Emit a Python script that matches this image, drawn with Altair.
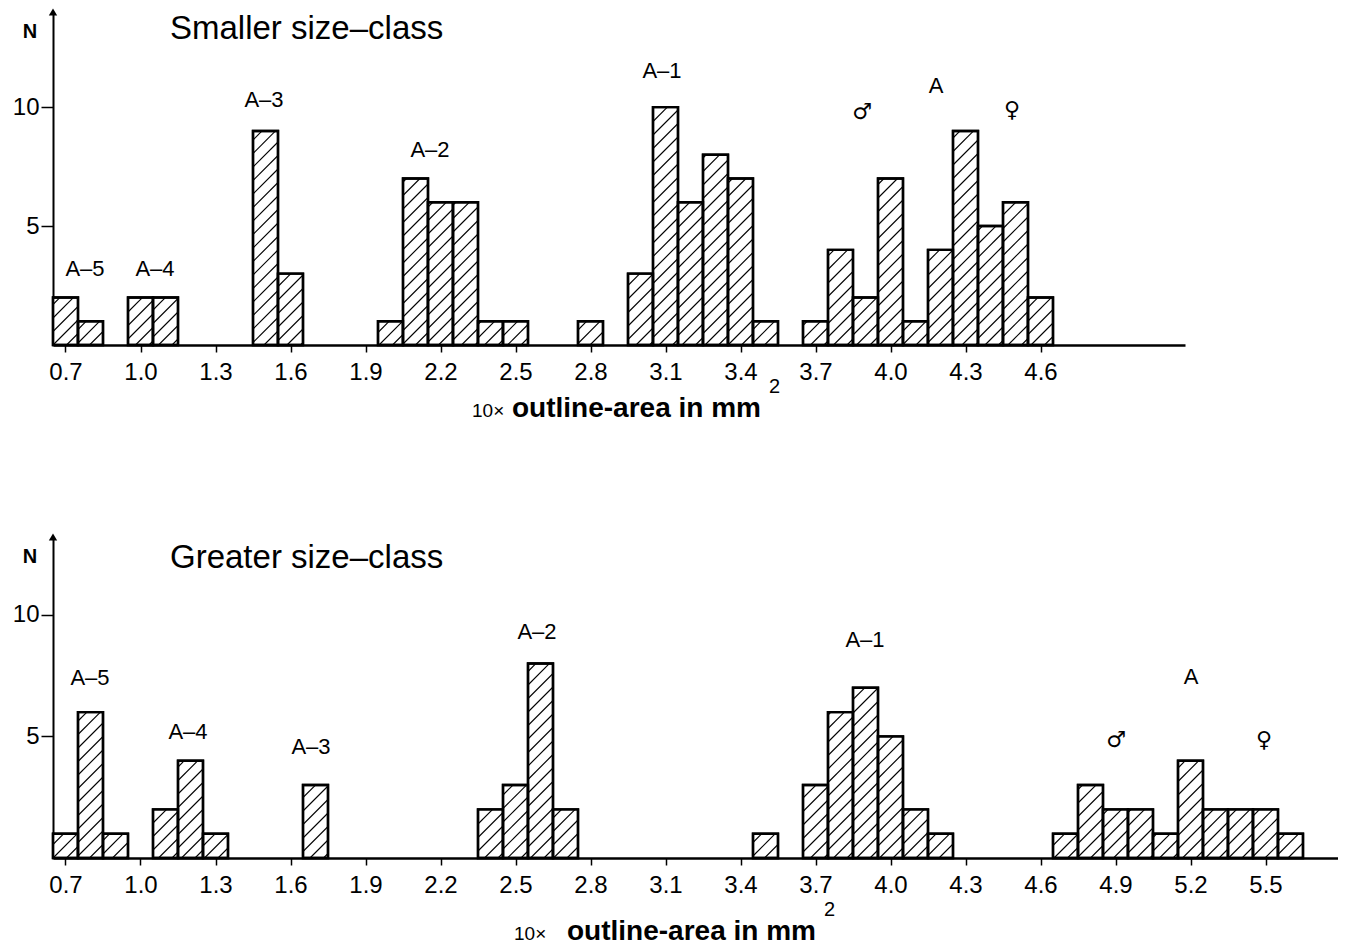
import altair as alt
import pandas as pd

FONT = "Liberation Sans"
SYM_FONT = "DejaVu Sans"

# ---------------- data ----------------
top_centers = [0.7, 0.8, 1.0, 1.1, 1.5, 1.6, 2.0, 2.1, 2.2, 2.3, 2.4, 2.5, 2.8,
               3.0, 3.1, 3.2, 3.3, 3.4, 3.5, 3.7, 3.8, 3.9, 4.0, 4.1, 4.2, 4.3,
               4.4, 4.5, 4.6]
top_counts = [2, 1, 2, 2, 9, 3, 1, 7, 6, 6, 1, 1, 1,
              3, 10, 6, 8, 7, 1, 1, 4, 2, 7, 1, 4, 9,
              5, 6, 2]
top_ticks = [0.7, 1.0, 1.3, 1.6, 1.9, 2.2, 2.5, 2.8, 3.1, 3.4, 3.7, 4.0, 4.3, 4.6]

bot_centers = [0.7, 0.8, 0.9, 1.1, 1.2, 1.3, 1.7, 2.4, 2.5, 2.6, 2.7, 3.5,
               3.7, 3.8, 3.9, 4.0, 4.1, 4.2, 4.7, 4.8, 4.9, 5.0, 5.1, 5.2,
               5.3, 5.4, 5.5, 5.6]
bot_counts = [1, 6, 1, 2, 4, 1, 3, 2, 3, 8, 2, 1,
              3, 6, 7, 5, 2, 1, 1, 3, 2, 2, 1, 4,
              2, 2, 2, 1]
bot_ticks = [0.7, 1.0, 1.3, 1.6, 1.9, 2.2, 2.5, 2.8, 3.1, 3.4, 3.7, 4.0, 4.3,
             4.6, 4.9, 5.2, 5.5]

y_ticks = [5, 10]

top_label_text = ["A\u20135", "A\u20134", "A\u20133", "A\u20132", "A\u20131", "A"]
top_label_x = [0.778, 1.058, 1.494, 2.158, 3.086, 4.182]
top_label_y = [3.2, 3.2, 10.3, 8.2, 11.5, 10.9]
top_sym_text = ["\u2642", "\u2640"]
top_sym_x = [3.886, 4.486]
top_sym_y = [9.8, 9.9]

bot_label_text = ["A\u20135", "A\u20134", "A\u20133", "A\u20132", "A\u20131", "A"]
bot_label_x = [0.798, 1.19, 1.682, 2.586, 3.898, 5.202]
bot_label_y = [7.4, 5.2, 4.55, 9.3, 8.95, 7.45]
bot_sym_text = ["\u2642", "\u2640"]
bot_sym_x = [4.902, 5.494]
bot_sym_y = [4.85, 4.85]

top_title = "Smaller  size\u2013class"
bot_title = "Greater  size\u2013class"

BIN = 0.1
XMIN = 0.65


def panel(centers, counts, ticks, labels_t, labels_x, labels_y,
          sym_t, sym_x, sym_y, title,
          width, height, ymax, title_y, xt_small, xt_big, xt_y):
    xmax = XMIN + width / 250.0
    xs = alt.Scale(domain=[XMIN, xmax], nice=False, zero=False)
    ys = alt.Scale(domain=[0, ymax], nice=False)
    xaxis = alt.Axis(values=ticks, format=".1f", title=None, grid=False,
                     labelFont=FONT, labelFontSize=24, labelColor="black",
                     domainColor="black", domainWidth=2.5,
                     tickColor="black", tickWidth=1.5, tickSize=7,
                     labelPadding=8, labelFlush=False)
    yaxis = alt.Axis(values=y_ticks, title=None, grid=False,
                     labelFont=FONT, labelFontSize=24, labelColor="black",
                     domainColor="black", domainWidth=2,
                     tickColor="black", tickWidth=1.5, tickSize=12,
                     labelPadding=2)

    bars = pd.DataFrame({"c": centers, "n": counts})
    bars["x0"] = (bars["c"] - BIN / 2).round(3)
    bars["x1"] = (bars["c"] + BIN / 2).round(3)
    bars["z"] = 0

    # hatch lines derived from the bars
    px_x = width / (xmax - XMIN)
    px_y = height / ymax
    step = 13.5
    rows = []
    for c, n in zip(centers, counts):
        x0 = c - BIN / 2
        w = BIN * px_x
        h = n * px_y
        gx0 = (x0 - XMIN) * px_x
        c0 = -w - ((-w + gx0) % step) + step
        while c0 < h:
            a = max(0.0, -c0)
            b = min(w, h - c0)
            if b - a > 1.0:
                rows.append({"x": x0 + a / px_x, "y": (a + c0) / px_y,
                             "x2": x0 + b / px_x, "y2": (b + c0) / px_y})
            c0 += step
    hatch = pd.DataFrame(rows)

    bar_layer = alt.Chart(bars).mark_bar(
        fill="white", stroke="black", strokeWidth=2.4, strokeJoin="miter"
    ).encode(
        x=alt.X("x0:Q", scale=xs, axis=xaxis),
        x2="x1:Q",
        y=alt.Y("n:Q", scale=ys, axis=yaxis),
        y2="z:Q",
    )

    hatch_layer = alt.Chart(hatch).mark_rule(color="black", strokeWidth=1.1).encode(
        x=alt.X("x:Q", scale=xs, axis=xaxis),
        y=alt.Y("y:Q", scale=ys, axis=yaxis),
        x2="x2:Q",
        y2="y2:Q",
    )

    bar_outline = alt.Chart(bars).mark_bar(
        fillOpacity=0, stroke="black", strokeWidth=2.4
    ).encode(
        x=alt.X("x0:Q", scale=xs, axis=xaxis),
        x2="x1:Q",
        y=alt.Y("n:Q", scale=ys, axis=yaxis),
        y2="z:Q",
    )

    arrow = alt.Chart(pd.DataFrame({"x": [XMIN], "y": [ymax]})).mark_point(
        shape="triangle-up", filled=True, color="black", size=70, opacity=1
    ).encode(
        x=alt.X("x:Q", scale=xs, axis=xaxis),
        y=alt.Y("y:Q", scale=ys, axis=yaxis),
    )

    lab = pd.DataFrame({"t": labels_t, "x": labels_x, "y": labels_y})
    label_layer = alt.Chart(lab).mark_text(
        font=FONT, fontSize=22, color="black", baseline="middle"
    ).encode(
        x=alt.X("x:Q", scale=xs, axis=xaxis),
        y=alt.Y("y:Q", scale=ys, axis=yaxis),
        text="t:N",
    )

    sym = pd.DataFrame({"t": sym_t, "x": sym_x, "y": sym_y})
    sym_layer = alt.Chart(sym).mark_text(
        font=SYM_FONT, fontSize=22, color="black", baseline="middle"
    ).encode(
        x=alt.X("x:Q", scale=xs, axis=xaxis),
        y=alt.Y("y:Q", scale=ys, axis=yaxis),
        text="t:N",
    )

    ttl = pd.DataFrame({"t": [title], "x": [1.118], "y": [title_y]})
    title_layer = alt.Chart(ttl).mark_text(
        font=FONT, fontSize=33, color="black", align="left", baseline="middle"
    ).encode(
        x=alt.X("x:Q", scale=xs, axis=xaxis),
        y=alt.Y("y:Q", scale=ys, axis=yaxis),
        text="t:N",
    )

    n_layer = alt.Chart(pd.DataFrame({"t": ["N"]})).mark_text(
        font=FONT, fontSize=20, fontWeight="bold", color="black", baseline="middle"
    ).encode(x=alt.value(-23), y=alt.value(20), text="t:N")

    xt1 = alt.Chart(pd.DataFrame({"t": ["10\u00d7"]})).mark_text(
        font=FONT, fontSize=19, color="black", align="left", baseline="alphabetic"
    ).encode(x=alt.value(xt_small), y=alt.value(xt_y), text="t:N")
    xt2 = alt.Chart(pd.DataFrame({"t": ["outline-area in mm"]})).mark_text(
        font=FONT, fontSize=28, fontWeight="bold", color="black", align="left",
        baseline="alphabetic"
    ).encode(x=alt.value(xt_big), y=alt.value(xt_y), text="t:N")
    xt3 = alt.Chart(pd.DataFrame({"t": ["2"]})).mark_text(
        font=FONT, fontSize=20, color="black", align="left", baseline="alphabetic"
    ).encode(x=alt.value(xt_big + 257), y=alt.value(xt_y - 24), text="t:N")

    return alt.layer(bar_layer, hatch_layer, bar_outline, arrow, label_layer,
                     sym_layer, title_layer, n_layer, xt1, xt2, xt3).properties(
        width=width, height=height,
        view=alt.ViewBackground(stroke="transparent", strokeWidth=0))


top = panel(top_centers, top_counts, top_ticks, top_label_text, top_label_x,
            top_label_y, top_sym_text, top_sym_x, top_sym_y, top_title,
            1132, 333, 14.0, 13.3, 419, 459, 405)
bottom = panel(bot_centers, bot_counts, bot_ticks, bot_label_text, bot_label_x,
               bot_label_y, bot_sym_text, bot_sym_x, bot_sym_y, bot_title,
               1285, 321, 13.2, 12.35, 461, 514, 403)

chart = alt.vconcat(top, bottom, spacing=110).properties(
    padding={"left": 4, "top": 0, "right": 0, "bottom": 0}
).configure_view(stroke="transparent", strokeWidth=0).configure(background="white")

chart.save("out.html", embed_options={"renderer": "svg", "actions": False})
